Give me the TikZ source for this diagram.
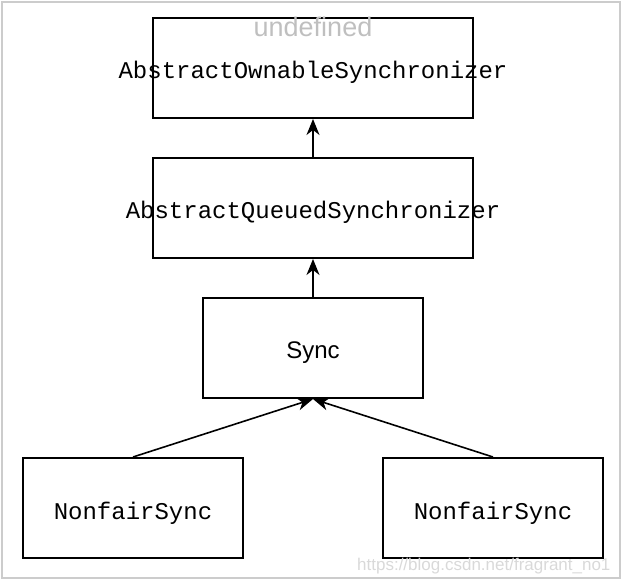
\documentclass[tikz,border=0pt]{standalone}
\usepackage{fontspec}
\setmainfont{Liberation Sans}
\setsansfont{Liberation Sans}
\setmonofont{Liberation Mono}
\usetikzlibrary{shapes,arrows.meta}

\begin{document}
\begin{tikzpicture}[x=1pt, y=-1pt]
\tikzstyle{classr}=[rectangle, draw=black, line width=2pt, minimum width=320pt, minimum height=100pt, inner sep=0pt, text height=24pt, text depth=2pt, font=\fontsize{24}{28}\selectfont\ttfamily]
\tikzstyle{classs}=[classr, minimum width=220pt]
\tikzstyle{drawstyle}=[line width=1.6pt, -{Stealth[length=16pt, width=13pt, inset=5pt]}]

\useasboundingbox (0,0) rectangle (622,580);
\draw[black!20, line width=1.5pt] (2,2) rectangle (620,578);

\node[classr] (aos) at (313,68) {\makebox[0pt]{AbstractOwnableSynchronizer}};
\node[classr] (aqs) at (313,208) {\makebox[0pt]{AbstractQueuedSynchronizer}};
\node[classs, font=\fontsize{24}{28}\selectfont\sffamily] (sync) at (313,348) {Sync};
\node[classs] (nfsL) at (133,508) {NonfairSync};
\node[classs] (nfsR) at (493,508) {NonfairSync};
\node[text=black!25, font=\fontsize{27}{30}\selectfont] (undef) at (313,27) {undefined};
\node[text=black!15, font=\fontsize{17}{20}\selectfont, anchor=east] (mark) at (614,566) {https://blog.csdn.net/fragrant\_no1};

\draw[drawstyle] (aqs) -- (aos);
\draw[drawstyle] (sync) -- (aqs);
\draw[drawstyle] (nfsL.north) -- (sync.south);
\draw[drawstyle] (nfsR.north) -- (sync.south);
\end{tikzpicture}
\end{document}
